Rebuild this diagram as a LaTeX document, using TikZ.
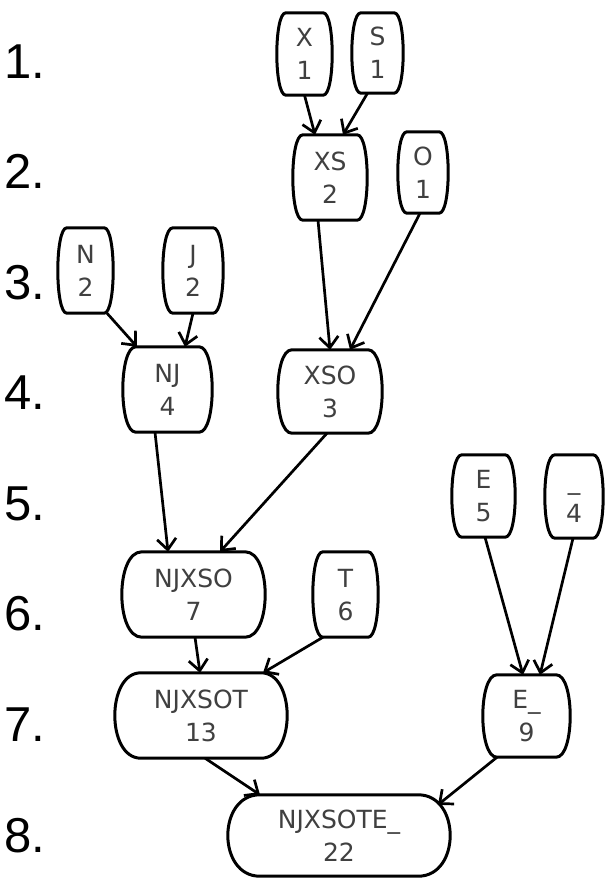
\documentclass[tikz,border=0pt]{standalone}
\usepackage{fontspec}
\setmainfont{DejaVu Sans}
\newfontfamily\lvlfont{Liberation Sans}
\usetikzlibrary{arrows.meta}
\definecolor{txtgray}{HTML}{404040}
\newcommand\lab[2]{\raisebox{0pt}[18pt][0pt]{#1}\\\raisebox{0pt}[18pt][0pt]{#2}}
\tikzset{
  nd/.style 2 args={minimum width=#1, minimum height=#2, inner sep=0pt,
    align=center, text=txtgray, font=\fontsize{25pt}{33pt}\selectfont},
  boxline/.style={line width=3pt, line join=round},
  conn/.style={line width=2.7pt, -{Straight Barb[length=11pt,width=19pt,line width=2.7pt]}},
  lvl/.style={anchor=base west, inner sep=0pt, font=\lvlfont\fontsize{49pt}{49pt}\selectfont}
}
\newcommand\barrel[2]{%
  \draw[boxline] ([xshift=#2]#1.north west) -- ([xshift=-#2]#1.north east)
    .. controls ([xshift=#2/3]#1.north east) and ([xshift=#2/3]#1.south east) .. ([xshift=-#2]#1.south east)
    -- ([xshift=#2]#1.south west)
    .. controls ([xshift=-#2/3]#1.south west) and ([xshift=-#2/3]#1.north west) .. cycle;}
\begin{document}
\begin{tikzpicture}[x=1pt,y=-1pt]
\fill[white] (0,0) rectangle (605,878);
\useasboundingbox (0,0) rectangle (605,878);

% level labels
\node[lvl] (L1) at (4,78) {1.};
\node[lvl] (L2) at (4,188.6) {2.};
\node[lvl] (L3) at (4,299.1) {3.};
\node[lvl] (L4) at (4,409.7) {4.};
\node[lvl] (L5) at (4,520.3) {5.};
\node[lvl] (L6) at (4,630.9) {6.};
\node[lvl] (L7) at (4,741.4) {7.};
\node[lvl] (L8) at (4,852) {8.};

% nodes
\node[nd={55pt}{82pt}] (X1) at (304.5,54) {\lab{X}{1}};
\node[nd={51pt}{80pt}] (S1) at (377.5,53) {\lab{S}{1}};
\node[nd={74pt}{85pt}] (XS2) at (330,177.5) {\lab{XS}{2}};
\node[nd={50pt}{81pt}] (O1) at (423,172.5) {\lab{O}{1}};
\node[nd={55pt}{85pt}] (N2) at (85.5,270.5) {\lab{N}{2}};
\node[nd={60pt}{85pt}] (J2) at (193,270.5) {\lab{J}{2}};
\node[nd={89pt}{85pt}] (NJ4) at (167.5,389.5) {\lab{NJ}{4}};
\node[nd={104pt}{83pt}] (XSO3) at (330,391.5) {\lab{XSO}{3}};
\node[nd={63pt}{82pt}] (E5) at (483.5,496) {\lab{E}{5}};
\node[nd={58pt}{83pt}] (U4) at (574,496.5) {\lab{\_}{4}};
\node[nd={143pt}{85pt}] (NJXSO7) at (193.5,594.5) {\lab{NJXSO}{7}};
\node[nd={65pt}{85pt}] (T6) at (345.5,594.5) {\lab{T}{6}};
\node[nd={172pt}{85pt}] (NJXSOT13) at (201,715.5) {\lab{NJXSOT}{13}};
\node[nd={87pt}{82pt}] (EU9) at (526.5,716) {\lab{E\_}{9}};
\node[nd={222pt}{81pt}] (ALL22) at (339,835.5) {\lab{NJXSOTE\_}{22}};

% outlines
\barrel{X1}{9pt}
\barrel{S1}{9pt}
\barrel{XS2}{10pt}
\barrel{O1}{9pt}
\barrel{N2}{9pt}
\barrel{J2}{10pt}
\barrel{NJ4}{13pt}
\barrel{XSO3}{14pt}
\barrel{E5}{10pt}
\barrel{U4}{10pt}
\barrel{NJXSO7}{20pt}
\barrel{T6}{10pt}
\barrel{NJXSOT13}{26pt}
\barrel{EU9}{14pt}
\barrel{ALL22}{32pt}

% connectors
\draw[conn] (X1.south) -- ([xshift=-15pt]XS2.north);
\draw[conn] ([xshift=-10pt]S1.south) -- ([xshift=13pt]XS2.north);
\draw[conn] ([xshift=-12pt]XS2.south) -- (XSO3.north);
\draw[conn] ([xshift=-3pt]O1.south) -- ([xshift=20pt]XSO3.north);
\draw[conn] ([xshift=21.5pt]N2.south) -- ([xshift=-30.5pt]NJ4.north);
\draw[conn] (J2.south) -- ([xshift=17.5pt]NJ4.north);
\draw[conn] ([xshift=-12.5pt]NJ4.south) -- ([xshift=-25.5pt]NJXSO7.north);
\draw[conn] ([xshift=-3pt]XSO3.south) -- ([xshift=26.5pt]NJXSO7.north);
\draw[conn] ([xshift=1.5pt]E5.south) -- ([xshift=-3.5pt]EU9.north);
\draw[conn] ([xshift=-1pt]U4.south) -- ([xshift=13.5pt]EU9.north);
\draw[conn] ([xshift=1.5pt]NJXSO7.south) -- ([xshift=-1pt]NJXSOT13.north);
\draw[conn] ([xshift=-22.5pt]T6.south) -- ([xshift=62pt]NJXSOT13.north);
\draw[conn] ([xshift=4pt]NJXSOT13.south) -- ([xshift=-79pt]ALL22.north);
\draw[conn] ([xshift=-29.5pt]EU9.south) -- ([xshift=99pt,yshift=-10pt]ALL22.north);
\end{tikzpicture}
\end{document}
